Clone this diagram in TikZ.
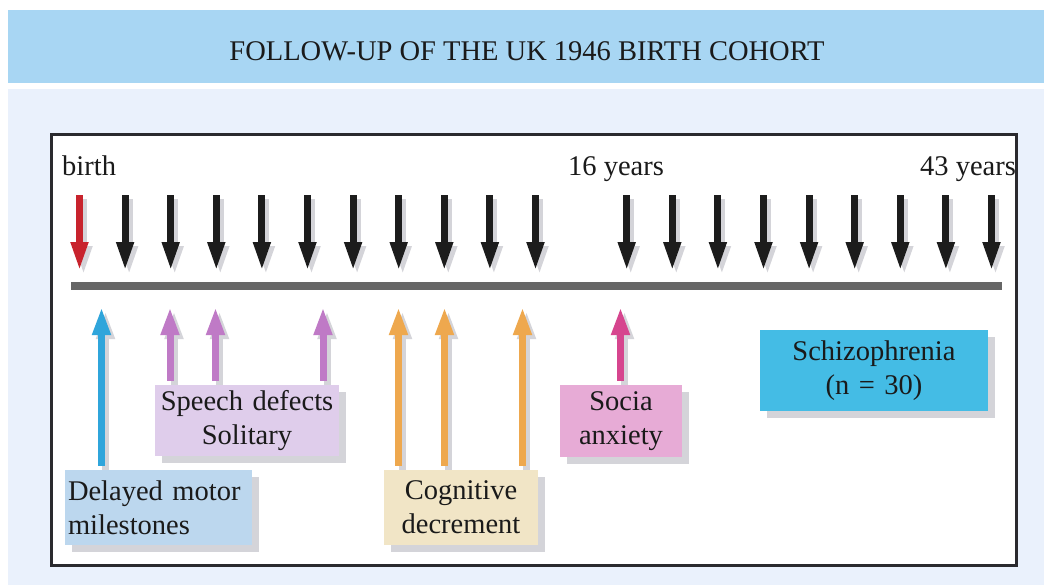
\documentclass[tikz,border=0pt]{standalone}
\usepackage{fontspec}
\setmainfont{Liberation Serif}
\usetikzlibrary{arrows.meta,shadows,calc}
\definecolor{titleblue}{HTML}{A8D6F3}
\definecolor{paleblue}{HTML}{EAF1FC}
\definecolor{framecol}{HTML}{2A2A2E}
\definecolor{textcol}{HTML}{1A1A1A}
\definecolor{bargray}{HTML}{666666}
\definecolor{shadowgray}{HTML}{D4D4D9}
\definecolor{arrred}{HTML}{C8232D}
\definecolor{arrblack}{HTML}{1C1C1C}
\definecolor{arrblue}{HTML}{2FA5DB}
\definecolor{arrpurple}{HTML}{BF7AC6}
\definecolor{arrorange}{HTML}{EEA84E}
\definecolor{arrpink}{HTML}{D6458E}
\definecolor{speechfill}{HTML}{DFCDEB}
\definecolor{delayfill}{HTML}{BCD7EE}
\definecolor{cogfill}{HTML}{F1E5C6}
\definecolor{sociafill}{HTML}{E7ABD6}
\definecolor{schizofill}{HTML}{44BCE5}
\newcommand\bigfont{\fontsize{28.5}{34}\selectfont}
\newcommand\tarrow[4]{%
  \draw[#1, draw=shadowgray, transform canvas={xshift=4pt,yshift=-4pt}] (#3) -- (#4);
  \draw[#1, draw=#2] (#3) -- (#4);}
\begin{document}
\begin{tikzpicture}[x=1pt,y=1pt,
  downarr/.style={line width=7pt, -{Triangle[length=29pt 0 1,width=16pt 0 1]}},
  uparr/.style={line width=7pt, -{Triangle[length=28pt 0 1,width=17pt 0 1]}},
  lbl/.style={inner sep=0pt, anchor=base west, font=\bigfont, text=textcol},
  box/.style={inner sep=0pt, align=center, font=\bigfont, text=textcol,
    drop shadow={shadow xshift=7pt, shadow yshift=-7pt, fill=shadowgray, opacity=1}}]
\useasboundingbox (0,0) rectangle (1044,-586);
\fill[white] (0,0) rectangle (1044,-586);
\fill[titleblue] (8,-10) rectangle (1044,-83);
\fill[paleblue] (8,-89) rectangle (1044,-585);
\node[inner sep=0pt, anchor=base, font=\bigfont, text=textcol] (title) at (527,-61)
  {FOLLOW-UP OF THE UK 1946 BIRTH COHORT};
\filldraw[fill=white, draw=framecol, line width=3pt] (51.5,-134.5) rectangle (1016.5,-565.5);
% labels
\node[lbl] (birth) at (62,-175) {birth};
\node[lbl] (y16) at (568,-175) {16 years};
\node[lbl] (y43) at (920,-175) {43 years};
% timeline bar
\fill[bargray] (71,-282) rectangle (1002,-290);
% down arrows
\foreach \i in {0,...,10,12,13,...,20}{
  \coordinate (t\i) at ({79.5+45.6*\i},-195);
  \coordinate (b\i) at ({79.5+45.6*\i},-271);
}
\tarrow{downarr}{arrred}{t0}{b0}
\foreach \i in {1,...,10,12,13,...,20}{
  \tarrow{downarr}{arrblack}{t\i}{b\i}
}
% boxes
\node[box, fill=speechfill, text width=184pt, minimum height=71pt] (speech) at (247,-420.5)
  {\fontsize{28.5}{37}\selectfont Speech defects\\Solitary};
\node[box, fill=delayfill, text width=181pt, inner xsep=3pt, align=left, minimum height=75pt] (delayed) at (158.5,-507.5)
  {Delayed motor\\milestones};
\node[box, fill=cogfill, text width=154pt, minimum height=75pt] (cog) at (461,-507.5)
  {Cognitive\\decrement};
\node[box, fill=sociafill, text width=122pt, minimum height=72pt] (socia) at (621,-421)
  {\fontsize{28.5}{36}\selectfont Socia\\anxiety};
\node[box, fill=schizofill, text width=228pt, minimum height=81pt] (schizo) at (874,-370.5)
  {Schizophrenia\\(n = 30)};
% up arrow tips
\coordinate (ua) at (101.5,-307);
\coordinate (ub) at (170,-307);
\coordinate (uc) at (215.5,-307);
\coordinate (ud) at (323,-307);
\coordinate (ue) at (398.5,-307);
\coordinate (uf) at (444.5,-307);
\coordinate (ug) at (522.5,-307);
\coordinate (uh) at (620.5,-307);
\tarrow{uparr}{arrblue}{$(delayed.north -| ua)+(0,4)$}{ua}
\tarrow{uparr}{arrpurple}{$(speech.north -| ub)+(0,4)$}{ub}
\tarrow{uparr}{arrpurple}{$(speech.north -| uc)+(0,4)$}{uc}
\tarrow{uparr}{arrpurple}{$(speech.north -| ud)+(0,4)$}{ud}
\tarrow{uparr}{arrorange}{$(cog.north -| ue)+(0,4)$}{ue}
\tarrow{uparr}{arrorange}{$(cog.north -| uf)+(0,4)$}{uf}
\tarrow{uparr}{arrorange}{$(cog.north -| ug)+(0,4)$}{ug}
\tarrow{uparr}{arrpink}{$(socia.north -| uh)+(0,4)$}{uh}
\end{tikzpicture}
\end{document}
